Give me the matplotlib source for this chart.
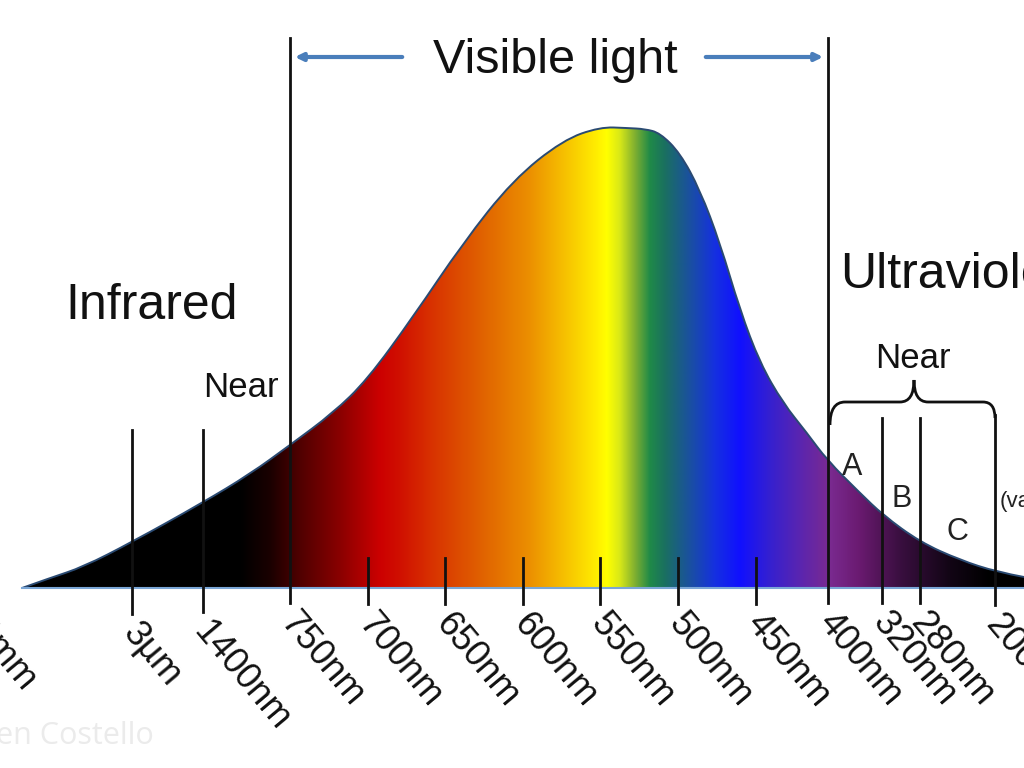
import numpy as np
import matplotlib
matplotlib.use('Agg')
import matplotlib.pyplot as plt
from matplotlib.colors import LinearSegmentedColormap
from matplotlib.patches import PathPatch
from matplotlib.path import Path

# outline of the spectrum curve (x across the band, y = screen row, baseline at 588)
curve_x = [22, 50, 83, 132, 202, 250, 290, 333, 367, 413, 463, 513, 563, 600,
           627, 645, 660, 680, 700, 720, 740, 760, 783, 807, 827, 860, 883,
           920, 960, 997, 1024]
curve_y = [588, 578, 567, 542, 503, 474, 445, 413, 380, 317, 243, 180, 140, 127,
           128, 129, 133, 153, 190, 243, 310, 363, 403, 433, 460, 493, 515,
           542, 560, 572, 577]
baseline = 588

# colour stops of the band
stop_x = [22, 240, 270, 300, 340, 380, 400, 430, 480, 530, 570, 597, 607, 620,
          635, 650, 665, 690, 715, 740, 770, 800, 830, 860, 900, 950, 990, 1024]
stop_c = ['#000000', '#000000', '#1a0000', '#500000', '#8a0000', '#cc0000',
          '#d01000', '#d83000', '#e06000', '#ec9000', '#f8c800', '#ffee00',
          '#ffff00', '#d8e818', '#80b030', '#208a48', '#1a7060', '#1a50a0',
          '#1530e0', '#1010ff', '#3520d0', '#5a25b0', '#7a2a90', '#6a1a70',
          '#3a0f40', '#120515', '#000000', '#000000']

# wavelength marks
tick_x = [-19, 132, 203, 290, 368, 445, 523, 600, 678, 756, 828, 882, 920, 995]
tick_labels = ['1mm', '3µm', '1400nm', '750nm', '700nm', '650nm', '600nm',
               '550nm', '500nm', '450nm', '400nm', '320nm', '280nm', '200nm']
tick_top = [430, 430, 430, 38, 558, 558, 558, 558, 558, 558, 38, 418, 418, 415]
tick_bottom = [612, 614, 612, 603, 604, 604, 604, 604, 604, 604, 603, 603, 603, 605]

uv_bands = ['A', 'B', 'C']
uv_band_x = [852, 902, 957]
uv_band_y = [475, 507, 540]

fig = plt.figure(figsize=(10.24, 7.68), dpi=100)
ax = fig.add_axes([0, 0, 1, 1])
ax.set_xlim(0, 1024)
ax.set_ylim(768, 0)
ax.axis('off')

font = 'Liberation Sans'

# smooth outline: read points used as quadratic bezier controls
pts = list(zip(curve_x, curve_y))
verts = [pts[0]]
codes = [Path.MOVETO]
for i in range(1, len(pts) - 2):
    mid = ((pts[i][0] + pts[i + 1][0]) / 2, (pts[i][1] + pts[i + 1][1]) / 2)
    verts += [pts[i], mid]
    codes += [Path.CURVE3, Path.CURVE3]
verts += [pts[-2], pts[-1]]
codes += [Path.CURVE3, Path.CURVE3]
outline = Path(verts, codes)
area = Path(verts + [(curve_x[-1], baseline), (curve_x[0], baseline), pts[0]],
            codes + [Path.LINETO, Path.LINETO, Path.CLOSEPOLY])

# gradient band clipped by the curve
pos = [(x - stop_x[0]) / (stop_x[-1] - stop_x[0]) for x in stop_x]
cmap = LinearSegmentedColormap.from_list('spec', list(zip(pos, stop_c)), N=1024)
grad = np.linspace(0, 1, 1024).reshape(1, -1)
im = ax.imshow(grad, cmap=cmap, aspect='auto', interpolation='bilinear',
               extent=[stop_x[0], stop_x[-1], baseline, min(curve_y) - 2], zorder=1)
clip = PathPatch(area, transform=ax.transData, facecolor='none', edgecolor='none')
ax.add_patch(clip)
im.set_clip_path(clip)
ax.add_patch(PathPatch(outline, facecolor='none', edgecolor='#2a4a72', lw=1.4, zorder=2))
ax.plot([curve_x[0], 1024], [baseline, baseline], color='#7aa6d6', lw=1.5, zorder=2)

# vertical marks and labels
for x, lab, t, b in zip(tick_x, tick_labels, tick_top, tick_bottom):
    ax.plot([x, x], [t, b], color='#111111', lw=2, zorder=3)
    ax.text(x + 10, b + 3, lab, rotation=-50, rotation_mode='anchor',
            ha='left', va='top', fontsize=26, family=font, color='#111111', zorder=4)

# visible light arrows
arrow_kw = dict(arrowstyle='-|>,head_length=0.45,head_width=0.22', color='#4a7ebb', lw=3)
ax.annotate('', xy=(292, 57), xytext=(405, 57), arrowprops=arrow_kw)
ax.annotate('', xy=(826, 57), xytext=(703, 57), arrowprops=arrow_kw)
ax.text(555, 73, 'Visible light', ha='center', va='baseline', fontsize=35,
        family=font, color='#111111')

ax.text(65, 319, 'Infrared', ha='left', va='baseline', fontsize=36, family=font, color='#111111')
ax.text(203, 397, 'Near', ha='left', va='baseline', fontsize=25, family=font, color='#111111')
ax.text(840, 288, 'Ultraviolet', ha='left', va='baseline', fontsize=36, family=font, color='#111111')
ax.text(913, 368, 'Near', ha='center', va='baseline', fontsize=25, family=font, color='#111111')

# brace over the near UV bands
brace_v = [(830, 425), (830, 402), (845, 402), (900, 402), (914, 402), (914, 380),
           (914, 402), (928, 402), (983, 402), (995, 402), (995, 418)]
brace_c = [Path.MOVETO, Path.CURVE3, Path.CURVE3, Path.LINETO, Path.CURVE3, Path.CURVE3,
           Path.CURVE3, Path.CURVE3, Path.LINETO, Path.CURVE3, Path.CURVE3]
ax.add_patch(PathPatch(Path(brace_v, brace_c), facecolor='none', edgecolor='#111111',
                       lw=2, zorder=3))

for lab, x, y in zip(uv_bands, uv_band_x, uv_band_y):
    ax.text(x, y, lab, ha='center', va='baseline', fontsize=22, family=font, color='#222222')
ax.text(1000, 507, '(vacuum)', ha='left', va='baseline', fontsize=16, family=font, color='#222222')

# faint credit
ax.text(-4, 744, 'en Costello', ha='left', va='baseline', fontsize=22,
        family='Open Sans', color='#ebebeb', zorder=0)

fig.savefig('out.png', dpi=100)
